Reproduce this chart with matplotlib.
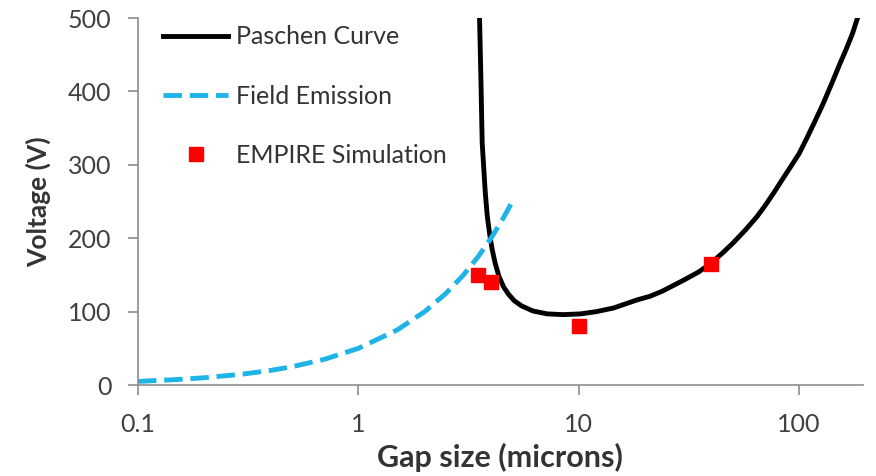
import matplotlib.pyplot as plt
from matplotlib.ticker import FixedLocator, NullLocator

plt.rcParams["font.family"] = ["Lato", "DejaVu Sans"]

# Paschen curve
paschen_gap = [3.55, 3.60, 3.65, 3.72, 3.77, 3.85, 3.95, 4.05, 4.18, 4.35,
               4.56, 4.80, 5.10, 5.50, 6.20, 7.20, 8.50, 10.2, 12.0, 14.4,
               18.4, 21.1, 24.0, 30.0, 35.0, 39.5, 45.0, 50.0, 57.0, 64.3,
               70.0, 76.5, 84.0, 91.0, 100.0, 108.0, 118.0, 129.0, 140.0,
               153.0, 164.0, 175.0, 183.0, 190.0]
paschen_volt = [500, 420, 330, 290, 262, 230, 205, 185, 166, 148,
                134, 124, 115, 108, 101, 97, 96, 97, 100, 105,
                116, 121, 128, 143, 154, 165, 180, 193, 211, 229,
                244, 261, 280, 296, 315, 335, 359, 384, 409,
                437, 458, 479, 497, 512]

# Field emission
field_gap = [0.1, 0.15, 0.2, 0.3, 0.4, 0.5, 0.7, 1.0, 1.5, 2.0, 2.5, 3.0,
             3.5, 4.0, 4.5, 5.0]
field_volt = [5, 7.5, 10, 15, 20, 25, 35, 50, 75, 100, 125, 150,
              175, 200, 225, 250]

# EMPIRE simulation points
sim_gap = [3.5, 4.0, 10.0, 40.0]
sim_volt = [150, 140, 80, 165]

x_ticks = [0.1, 1, 10, 100]
x_tick_labels = ["0.1", "1", "10", "100"]
y_ticks = [0, 100, 200, 300, 400, 500]

fig = plt.figure(figsize=(8.76, 4.76), dpi=100)
ax = fig.add_axes([0.1575, 0.191, 0.8275, 0.771])

ax.plot(paschen_gap, paschen_volt, color="black", linewidth=3.5,
        label="Paschen Curve", solid_joinstyle="round")
ax.plot(field_gap, field_volt, color="#1fb4e8", linewidth=3.5,
        dashes=(3.8, 1.6), label="Field Emission")
ax.plot(sim_gap, sim_volt, linestyle="none", marker="s", markersize=9.5,
        color="#ff0000", label="EMPIRE Simulation")

ax.set_xscale("log")
ax.set_xlim(0.1, 195)
ax.set_ylim(0, 500)
ax.xaxis.set_major_locator(FixedLocator(x_ticks))
ax.xaxis.set_minor_locator(NullLocator())
ax.set_xticklabels(x_tick_labels)
ax.set_yticks(y_ticks)

for side in ["top", "right"]:
    ax.spines[side].set_visible(False)
for side in ["left", "bottom"]:
    ax.spines[side].set_color("#8c8c8c")
    ax.spines[side].set_linewidth(1.2)
ax.tick_params(axis="both", colors="#8c8c8c", length=7, width=1.2,
               labelsize=18, labelcolor="#404040")
ax.tick_params(axis="y", pad=12)
ax.tick_params(axis="x", pad=13)

ax.set_xlabel("Gap size (microns)", labelpad=5, fontsize=22,
              fontweight="bold", color="#333333")
ax.set_ylabel("Voltage (V)", labelpad=12, fontsize=19,
              fontweight="bold", color="#333333")

leg = ax.legend(loc="upper left", bbox_to_anchor=(0.035, 0.98), frameon=False,
                fontsize=18, handlelength=2.6, handletextpad=0.3,
                labelspacing=1.45, borderpad=0, borderaxespad=0)
for txt in leg.get_texts():
    txt.set_color("#333333")

fig.savefig("out.png", dpi=100)
